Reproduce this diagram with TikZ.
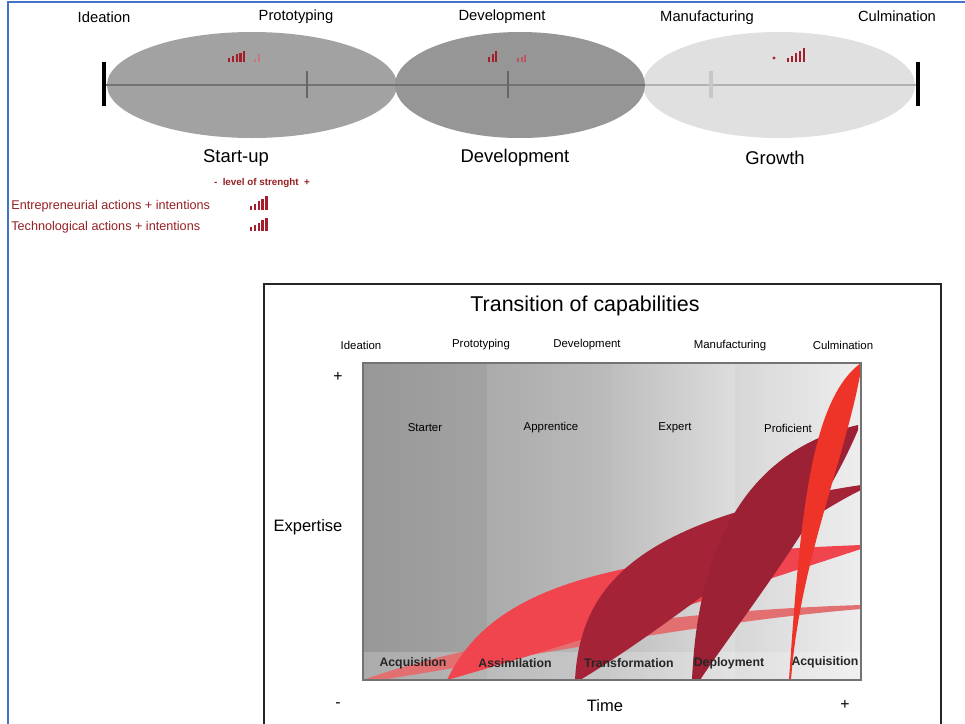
\documentclass[tikz,border=0pt]{standalone}
\usepackage{fontspec}
\setmainfont{Liberation Sans}
\usetikzlibrary{positioning}
\definecolor{frameblue}{RGB}{68,114,196}
\definecolor{legred}{RGB}{150,32,36}
\definecolor{barred}{RGB}{165,30,45}
\definecolor{ellA}{RGB}{162,162,162}
\definecolor{ellB}{RGB}{150,150,150}
\definecolor{ellC}{RGB}{224,224,224}
\definecolor{colA}{RGB}{152,152,152}
\definecolor{colB}{RGB}{180,180,180}
\definecolor{colC}{RGB}{206,206,206}
\definecolor{colD}{RGB}{226,226,226}
\definecolor{palered}{RGB}{226,112,112}
\definecolor{brightred}{RGB}{240,68,78}
\definecolor{darkred}{RGB}{165,35,55}
\definecolor{flamered}{RGB}{238,52,40}

\begin{document}
\begin{tikzpicture}[x=0.02cm, y=-0.02cm,
    phase/.style={font=\fontsize{8.4}{10}\selectfont, inner sep=0pt},
    stage/.style={font=\fontsize{10.5}{12}\selectfont, inner sep=0pt},
    legtxt/.style={font=\fontsize{7.2}{9}\selectfont, text=legred, inner sep=0pt, anchor=west},
    chlabel/.style={font=\fontsize{6.5}{8}\selectfont, inner sep=0pt},
    steplabel/.style={font=\fontsize{7}{8}\selectfont\bfseries, text=black!85, inner sep=0pt},
    axislabel/.style={font=\fontsize{9.4}{11}\selectfont, inner sep=0pt}]
  \useasboundingbox (0,0) rectangle (965,724);
  \fill[white] (0,0) rectangle (965,724);
  % Moldura azul
  \draw[frameblue, line width=0.8pt] (8,724) |- (965,2);

  % Elipses das fases
  \fill[ellC] (779,85) ellipse [x radius=136, y radius=53];
  \fill[ellA] (252,85) ellipse [x radius=145, y radius=53];
  \fill[ellB] (520,85) ellipse [x radius=125, y radius=53];
  % Eixo
  \draw[black!55, line width=1.6pt] (106,85) -- (645,85);
  \draw[black!30, line width=1.6pt] (645,85) -- (916,85);
  \draw[black!60, line width=1.4pt] (307,71) -- (307,98);
  \draw[black!60, line width=1.4pt] (508,71) -- (508,98);
  \draw[black!22, line width=2.4pt] (711,71) -- (711,98);
  \fill[black] (102,62) rectangle (106,106);
  \fill[black] (916,62) rectangle (920,106);
  % Barras de intensidade
  \foreach \i in {0,...,4}
    \fill[barred] ({228+3.8*\i},62) rectangle ++(2.2,{-(4+1.8*\i)});
  \fill[barred!60] (254,62) rectangle ++(1.6,-3);
  \fill[barred!60] (258,62) rectangle ++(1.6,-8);
  \foreach \i in {0,...,2}
    \fill[barred] ({488+3.6*\i},62) rectangle ++(2.2,{-(5+3*\i)});
  \foreach \i in {0,...,2}
    \fill[barred!75] ({517+3.6*\i},62) rectangle ++(2.2,{-(4+1.5*\i)});
  \fill[barred] (774,58) circle [radius=1.6];
  \foreach \i in {0,...,4}
    \fill[barred] ({787+4*\i},62) rectangle ++(2.2,{-(4+2.4*\i)});

  % Marcos
  \node[phase] (ideTop) at (104,17) {Ideation};
  \node[phase] (proTop) at (296,17) {Prototyping};
  \node[phase] (devTop) at (502,17) {Development};
  \node[phase] (manTop) at (707,18) {Manufacturing};
  \node[phase] (culTop) at (897,16) {Culmination};
  % Estágios
  \node[stage] (startup) at (236,158) {Start-up};
  \node[stage] (develop) at (515,158) {Development};
  \node[stage] (growth) at (775,158) {Growth};
  % Legenda
  \node[font=\fontsize{5.6}{7}\selectfont\bfseries, text=legred, inner sep=0pt] (level) at (262,183)
    {-\ \ level of strenght\ \ +};
  \node[legtxt] (entLeg) at (11,206) {Entrepreneurial actions + intentions};
  \node[legtxt] (tecLeg) at (11,227) {Technological actions + intentions};
  \foreach \i in {0,...,4}
    \fill[barred] ({250+3.8*\i},210) rectangle ++(2.4,{-(4+2.4*\i)});
  \foreach \i in {0,...,4}
    \fill[barred] ({250+3.8*\i},231) rectangle ++(2.4,{-(4+2.2*\i)});

  % Quadro de transição
  \draw[black!85, line width=1.1pt] (264,724) |- (941,284) -- (941,724);
  \node[font=\fontsize{12.2}{14}\selectfont, inner sep=0pt] (title) at (585,306)
    {Transition of capabilities};
  \node[chlabel] (ideCh) at (361,345) {Ideation};
  \node[chlabel] (proCh) at (481,345) {Prototyping};
  \node[chlabel] (devCh) at (587,345) {Development};
  \node[chlabel] (manCh) at (730,346) {Manufacturing};
  \node[chlabel] (culCh) at (843,345) {Culmination};
  % Colunas
  \shade[left color=colA, right color=colA!90!white] (363,363) rectangle (487,680);
  \shade[left color=colB!95!black, right color=colB!90!white] (487,363) rectangle (611,680);
  \shade[left color=colC!92!black, right color=colC!70!white] (611,363) rectangle (735,680);
  \shade[left color=colD!95!black, right color=colD!60!white] (735,363) rectangle (861,680);
  \fill[white, opacity=0.2] (363,652) rectangle (861,680);
  \node[chlabel] (starter) at (425,428) {Starter};
  \node[chlabel] (apprent) at (551,428) {Apprentice};
  \node[chlabel] (expert) at (675,428) {Expert};
  \node[chlabel] (profic) at (788,428) {Proficient};
  % Formas de capacidade
  \fill[palered] (363,680) .. controls (460,645) and (640,612) .. (861,605)
    -- (861,609) .. controls (700,622) and (480,665) .. (380,680) -- cycle;
  \fill[brightred] (447,680) .. controls (490,590) and (600,555) .. (861,545)
    -- (861,549) .. controls (720,595) and (570,645) .. (447,680) -- cycle;
  \fill[darkred] (575,680) .. controls (580,590) and (630,520) .. (861,485)
    -- (861,490) .. controls (780,530) and (680,620) .. (580,680) -- cycle;
  \fill[darkred!95!black] (692,680) .. controls (698,540) and (750,450) .. (858,425)
    -- (858,430) .. controls (820,520) and (740,620) .. (700,680) -- cycle;
  \fill[flamered] (789,680) .. controls (800,520) and (810,400) .. (861,363)
    -- (861,370) .. controls (845,460) and (800,560) .. (791,680) -- cycle;
  \draw[black!55, line width=0.6pt] (363,363) rectangle (861,680);
  % Etapas
  \node[steplabel] (acq1) at (413,663) {Acquisition};
  \node[steplabel] (assim) at (515,663) {Assimilation};
  \node[steplabel] (transf) at (629,663) {Transformation};
  \node[steplabel] (deploy) at (729,663) {Deployment};
  \node[steplabel] (acq2) at (825,662) {Acquisition};
  % Eixos
  \node[chlabel, font=\fontsize{9}{10}\selectfont] (plusY) at (338,377) {+};
  \node[axislabel] (expertise) at (308,527) {Expertise};
  \node[chlabel, font=\fontsize{9}{10}\selectfont] (minusX) at (338,705) {-};
  \node[axislabel] (time) at (605,706) {Time};
  \node[chlabel, font=\fontsize{9}{10}\selectfont] (plusX) at (845,705) {+};
\end{tikzpicture}
\end{document}
